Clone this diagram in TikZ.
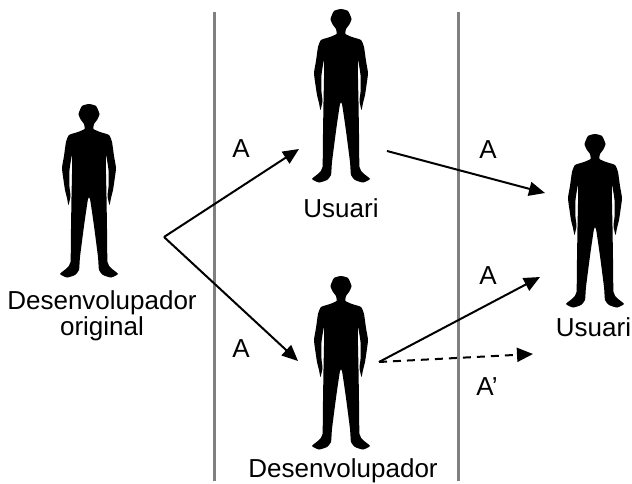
\documentclass[tikz,border=0pt]{standalone}
\usepackage{fontspec}
\setmainfont{Liberation Sans}
\usetikzlibrary{arrows.meta}
\tikzset{
  person/.pic={
    \fill[black] plot[smooth cycle,tension=0.3] coordinates {
      (0,0) (7,2) (10.5,10) (8,16) (5,20) (4.5,25) (11,28) (20,31) (23,38) (25,52) (27,64) (25.5,76) (24,86)
      (22,94) (20.5,101) (18.5,92) (19.5,83) (19.5,66) (17,51) (17,70) (17.5,93) (18,125) (18.5,158) (22,164) (29,170)
      (22,173.5) (14,171) (10,166) (9,153) (5,122) (1,95) (-1,95) (-5,122) (-9,153) (-10,166) (-14,171) (-22,173.5)
      (-29,170) (-22,164) (-18.5,158) (-18,125) (-17.5,93) (-17,70) (-17,51) (-19.5,66) (-19.5,83) (-18.5,92) (-20.5,101)
      (-22,94) (-24,86) (-25.5,76) (-27,64) (-25,52) (-23,38) (-20,31) (-11,28) (-4.5,25) (-5,20) (-8,16) (-10.5,10) (-7,2)
    };
  },
  lbl/.style={font=\fontsize{26}{26}\selectfont,inner sep=0pt,align=center},
  arr/.style={line width=2pt,-{Triangle[length=16pt,width=14pt]}},
  divider/.style={line width=3pt,draw=black!50}
}
\begin{document}
\begin{tikzpicture}[x=1pt,y=-1pt]
\useasboundingbox (0,0) rectangle (632,484);
%dividers
\coordinate (divAtop) at (214.5,12);
\coordinate (divAbot) at (214.5,481);
\coordinate (divBtop) at (458,12);
\coordinate (divBbot) at (458,481);
\draw[divider] (divAtop) -- (divAbot);
\draw[divider] (divBtop) -- (divBbot);
%people
\pic at (89,104) {person};
\pic at (341,9) {person};
\pic at (341,276) {person};
\pic at (595,134) {person};
%texts
\node[lbl] (origDev) at (102,315.5) {Desenvolupador\\[0pt]original};
\node[lbl] (topUser) at (341,208) {Usuari};
\node[lbl] (rightUser) at (593.5,327) {Usuari};
\node[lbl] (botDev) at (343,471) {Desenvolupador};
\node[lbl] (lblUp) at (241,149) {A};
\node[lbl] (lblDown) at (241,349) {A};
\node[lbl] (lblTop) at (488,150) {A};
\node[lbl] (lblBot) at (488,276) {A};
\node[lbl] (lblDash) at (487,387) {A’};
%arrow ends
\coordinate (fork) at (164,237);
\coordinate (forkUp) at (299,149);
\coordinate (forkDown) at (298,361);
\coordinate (topStart) at (387,151);
\coordinate (topEnd) at (545,193);
\coordinate (botStart) at (379,362);
\coordinate (botEnd) at (540,277);
\coordinate (dashEnd) at (533,354);
\draw[arr] (fork) -- (forkUp);
\draw[arr] (fork) -- (forkDown);
\draw[arr] (topStart) -- (topEnd);
\draw[arr] (botStart) -- (botEnd);
\draw[arr,dash pattern=on 8pt off 6pt] (botStart) -- (dashEnd);
\end{tikzpicture}
\end{document}
